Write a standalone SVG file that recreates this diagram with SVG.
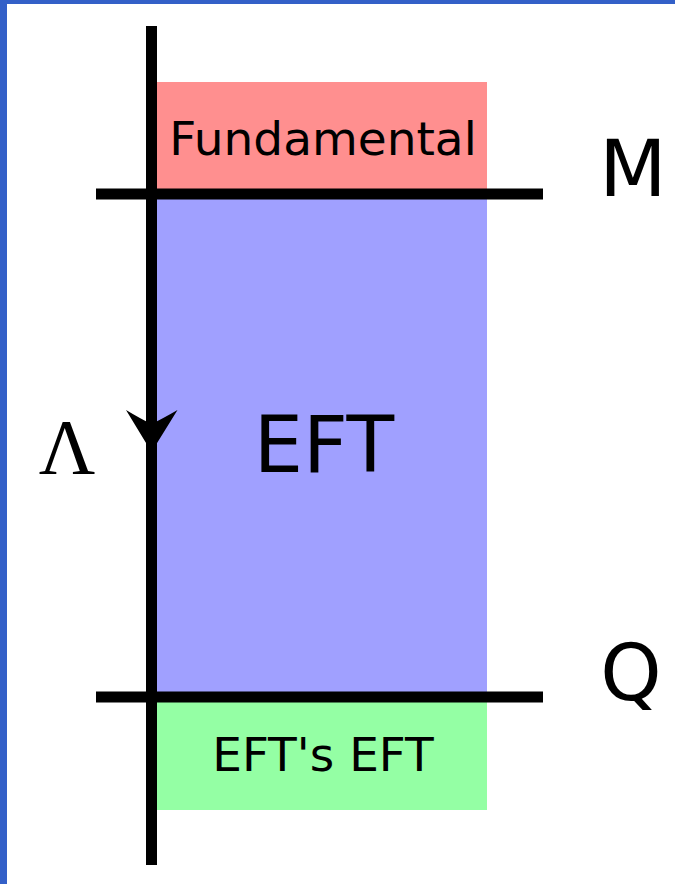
<svg xmlns="http://www.w3.org/2000/svg" width="675" height="884" viewBox="0 0 675 884">
<style>
.t{font-family:"DejaVu Sans","Liberation Sans",sans-serif;fill:#000;text-anchor:middle}
.ln{stroke:#000;stroke-width:11;fill:none}
</style>
<rect x="0" y="0" width="675" height="884" fill="#ffffff"/>
<rect x="0" y="0" width="675" height="4" fill="#3360c8"/>
<rect x="0" y="0" width="7" height="884" fill="#3360c8"/>
<g id="fundamental">
<rect x="157" y="82" width="330" height="112" fill="#ff8f8f"/>
<text class="t" x="323" y="155" font-size="47">Fundamental</text>
</g>
<g id="eft">
<rect x="157" y="194" width="330" height="503" fill="#a0a0ff"/>
<text class="t" x="324" y="472" font-size="78">EFT</text>
</g>
<g id="efts-eft">
<rect x="157" y="697" width="330" height="113" fill="#94ffa4"/>
<text class="t" x="323" y="771" font-size="47">EFT's EFT</text>
</g>
<g id="label-M"><text class="t" x="633" y="196" font-size="78">M</text></g>
<g id="label-Q"><text class="t" x="631" y="700" font-size="78">Q</text></g>
<g id="label-Lambda"><text x="67" y="473" font-size="78" text-anchor="middle" font-family="'Liberation Serif','DejaVu Serif',serif">Λ</text></g>
<g id="connectors">
<line class="ln" x1="151.5" y1="26" x2="151.5" y2="865"/>
<line class="ln" x1="96" y1="194" x2="543" y2="194"/>
<line class="ln" x1="96" y1="697" x2="543" y2="697"/>
<path d="M151.5,452 L126,410 Q141,419 151.5,424 Q162,419 177.5,410 Z" fill="#000"/>
</g>
</svg>
